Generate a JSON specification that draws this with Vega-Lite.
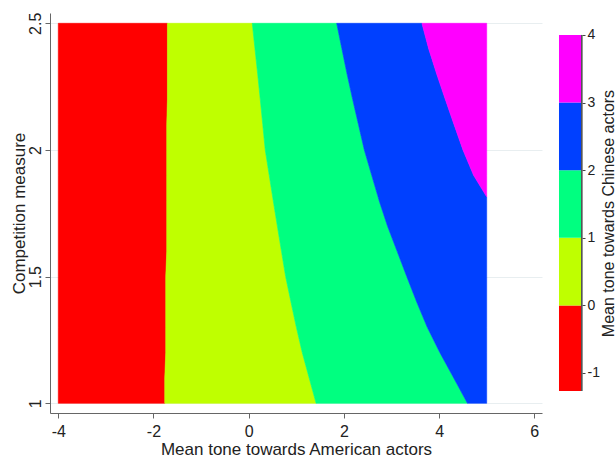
{
  "$schema": "https://vega.github.io/schema/vega-lite/v6.json",
  "width": 492,
  "height": 400,
  "autosize": {"type": "none"},
  "padding": {"left": 50, "top": 13, "right": 74, "bottom": 45},
  "background": "white",
  "config": {"view": {"stroke": null}, "font": "Liberation Sans"},
  "datasets": {
    "contour": [
      {"band": "lt0", "y": 1.0, "lo": -4, "hi": -1.763},
      {"band": "lt0", "y": 1.1, "lo": -4, "hi": -1.763},
      {"band": "lt0", "y": 1.2, "lo": -4, "hi": -1.742},
      {"band": "lt0", "y": 1.3, "lo": -4, "hi": -1.742},
      {"band": "lt0", "y": 1.4, "lo": -4, "hi": -1.742},
      {"band": "lt0", "y": 1.5, "lo": -4, "hi": -1.742},
      {"band": "lt0", "y": 1.6, "lo": -4, "hi": -1.721},
      {"band": "lt0", "y": 1.7, "lo": -4, "hi": -1.721},
      {"band": "lt0", "y": 1.8, "lo": -4, "hi": -1.721},
      {"band": "lt0", "y": 1.9, "lo": -4, "hi": -1.721},
      {"band": "lt0", "y": 2.0, "lo": -4, "hi": -1.721},
      {"band": "lt0", "y": 2.1, "lo": -4, "hi": -1.721},
      {"band": "lt0", "y": 2.2, "lo": -4, "hi": -1.707},
      {"band": "lt0", "y": 2.3, "lo": -4, "hi": -1.707},
      {"band": "lt0", "y": 2.4, "lo": -4, "hi": -1.707},
      {"band": "lt0", "y": 2.5, "lo": -4, "hi": -1.707},

      {"band": "0-1", "y": 1.0, "lo": -1.763, "hi": 1.417},
      {"band": "0-1", "y": 1.1, "lo": -1.763, "hi": 1.271},
      {"band": "0-1", "y": 1.2, "lo": -1.742, "hi": 1.126},
      {"band": "0-1", "y": 1.3, "lo": -1.742, "hi": 1.002},
      {"band": "0-1", "y": 1.4, "lo": -1.742, "hi": 0.888},
      {"band": "0-1", "y": 1.5, "lo": -1.742, "hi": 0.777},
      {"band": "0-1", "y": 1.6, "lo": -1.721, "hi": 0.689},
      {"band": "0-1", "y": 1.7, "lo": -1.721, "hi": 0.602},
      {"band": "0-1", "y": 1.8, "lo": -1.721, "hi": 0.516},
      {"band": "0-1", "y": 1.9, "lo": -1.721, "hi": 0.432},
      {"band": "0-1", "y": 2.0, "lo": -1.721, "hi": 0.348},
      {"band": "0-1", "y": 2.1, "lo": -1.721, "hi": 0.296},
      {"band": "0-1", "y": 2.2, "lo": -1.707, "hi": 0.243},
      {"band": "0-1", "y": 2.3, "lo": -1.707, "hi": 0.189},
      {"band": "0-1", "y": 2.4, "lo": -1.707, "hi": 0.132},
      {"band": "0-1", "y": 2.5, "lo": -1.707, "hi": 0.0755},

      {"band": "1-2", "y": 1.0, "lo": 1.417, "hi": 4.596},
      {"band": "1-2", "y": 1.1, "lo": 1.271, "hi": 4.308},
      {"band": "1-2", "y": 1.2, "lo": 1.126, "hi": 4.017},
      {"band": "1-2", "y": 1.3, "lo": 1.002, "hi": 3.752},
      {"band": "1-2", "y": 1.4, "lo": 0.888, "hi": 3.530},
      {"band": "1-2", "y": 1.5, "lo": 0.777, "hi": 3.322},
      {"band": "1-2", "y": 1.6, "lo": 0.689, "hi": 3.119},
      {"band": "1-2", "y": 1.7, "lo": 0.602, "hi": 2.916},
      {"band": "1-2", "y": 1.8, "lo": 0.516, "hi": 2.741},
      {"band": "1-2", "y": 1.9, "lo": 0.432, "hi": 2.585},
      {"band": "1-2", "y": 2.0, "lo": 0.348, "hi": 2.430},
      {"band": "1-2", "y": 2.1, "lo": 0.296, "hi": 2.307},
      {"band": "1-2", "y": 2.2, "lo": 0.243, "hi": 2.184},
      {"band": "1-2", "y": 2.3, "lo": 0.189, "hi": 2.067},
      {"band": "1-2", "y": 2.4, "lo": 0.132, "hi": 1.958},
      {"band": "1-2", "y": 2.5, "lo": 0.0755, "hi": 1.849},

      {"band": "2-3", "y": 1.0, "lo": 4.596, "hi": 5},
      {"band": "2-3", "y": 1.1, "lo": 4.308, "hi": 5},
      {"band": "2-3", "y": 1.2, "lo": 4.017, "hi": 5},
      {"band": "2-3", "y": 1.3, "lo": 3.752, "hi": 5},
      {"band": "2-3", "y": 1.4, "lo": 3.530, "hi": 5},
      {"band": "2-3", "y": 1.5, "lo": 3.322, "hi": 5},
      {"band": "2-3", "y": 1.6, "lo": 3.119, "hi": 5},
      {"band": "2-3", "y": 1.7, "lo": 2.916, "hi": 5},
      {"band": "2-3", "y": 1.8, "lo": 2.741, "hi": 5},
      {"band": "2-3", "y": 1.815, "lo": 2.718, "hi": 5},
      {"band": "2-3", "y": 1.9, "lo": 2.585, "hi": 4.725},
      {"band": "2-3", "y": 2.0, "lo": 2.430, "hi": 4.502},
      {"band": "2-3", "y": 2.1, "lo": 2.307, "hi": 4.315},
      {"band": "2-3", "y": 2.2, "lo": 2.184, "hi": 4.130},
      {"band": "2-3", "y": 2.3, "lo": 2.067, "hi": 3.950},
      {"band": "2-3", "y": 2.4, "lo": 1.958, "hi": 3.781},
      {"band": "2-3", "y": 2.5, "lo": 1.849, "hi": 3.639},

      {"band": "3-4", "y": 1.815, "lo": 5, "hi": 5},
      {"band": "3-4", "y": 1.9, "lo": 4.725, "hi": 5},
      {"band": "3-4", "y": 2.0, "lo": 4.502, "hi": 5},
      {"band": "3-4", "y": 2.1, "lo": 4.315, "hi": 5},
      {"band": "3-4", "y": 2.2, "lo": 4.130, "hi": 5},
      {"band": "3-4", "y": 2.3, "lo": 3.950, "hi": 5},
      {"band": "3-4", "y": 2.4, "lo": 3.781, "hi": 5},
      {"band": "3-4", "y": 2.5, "lo": 3.639, "hi": 5}
    ],
    "legend": [
      {"band": "lt0", "lo": -1.266, "hi": 0},
      {"band": "0-1", "lo": 0, "hi": 1},
      {"band": "1-2", "lo": 1, "hi": 2},
      {"band": "2-3", "lo": 2, "hi": 3},
      {"band": "3-4", "lo": 3, "hi": 4}
    ]
  },
  "layer": [
    {
      "data": {"name": "contour"},
      "mark": {"type": "area", "orient": "horizontal", "strokeWidth": 0.6},
      "encoding": {
        "y": {
          "field": "y", "type": "quantitative",
          "scale": {"domain": [0.9617, 2.5407], "nice": false, "zero": false},
          "axis": {
            "values": [1, 1.5, 2, 2.5], "format": "~g",
            "labelAngle": 270, "labelAlign": "center", "labelBaseline": "bottom",
            "labelFontSize": 16, "labelColor": "#222", "labelPadding": 2,
            "tickSize": 5, "tickColor": "#666", "domainColor": "#666",
            "grid": true, "gridColor": "#e8eef0",
            "title": "Competition measure", "titleFontSize": 17, "titleFontWeight": "normal",
            "titleColor": "#222", "titlePadding": -1
          }
        },
        "x": {
          "field": "lo", "type": "quantitative",
          "title": "Mean tone towards American actors",
          "scale": {"domain": [-4.174, 6.162], "nice": false, "zero": false},
          "axis": {
            "values": [-4, -2, 0, 2, 4, 6], "format": "d",
            "labelExpr": "replace(datum.label, '\u2212', '-')",
            "labelFontSize": 16, "labelColor": "#222", "labelPadding": 5,
            "tickSize": 5, "tickColor": "#666", "domainColor": "#666", "grid": false,
            "titleFontSize": 17,
            "titleFontWeight": "normal", "titleColor": "#222", "titlePadding": 2
          }
        },
        "x2": {"field": "hi"},
        "color": {
          "field": "band", "type": "nominal",
          "scale": {"domain": ["lt0", "0-1", "1-2", "2-3", "3-4"], "range": ["#ff0000", "#bfff00", "#00ff80", "#0040ff", "#ff00ff"]},
          "legend": null
        },
        "stroke": {
          "field": "band", "type": "nominal",
          "scale": {"domain": ["lt0", "0-1", "1-2", "2-3", "3-4"], "range": ["#ff0000", "#bfff00", "#00ff80", "#0040ff", "#ff00ff"]},
          "legend": null
        }
      }
    },
    {
      "data": {"name": "legend"},
      "layer": [
        {
          "mark": {"type": "rect"},
          "encoding": {
            "x": {"datum": 6.519, "type": "quantitative"},
            "x2": {"datum": 6.996},
            "y": {
              "field": "lo", "type": "quantitative",
              "scale": {"domain": [-1.592, 4.3254], "nice": false, "zero": false},
              "axis": {
                "orient": "right", "offset": 40, "values": [-1, 0, 1, 2, 3, 4], "format": "d",
                "labelExpr": "replace(datum.label, '\u2212', '-')",
                "domain": false, "grid": false, "tickSize": 3, "tickColor": "#444",
                "labelFontSize": 14, "labelColor": "#222", "labelPadding": 2,
                "title": "Mean tone towards Chinese actors", "titleFontSize": 16,
                "titleFontWeight": "normal", "titleColor": "#222",
                "titleAngle": 270, "titleBaseline": "top", "titlePadding": 1
              }
            },
            "y2": {"field": "hi"},
            "color": {"field": "band", "type": "nominal", "legend": null}
          }
        },
        {
          "mark": {"type": "rule", "color": "#555", "strokeWidth": 1},
          "encoding": {
            "x": {"datum": 6.996, "type": "quantitative"},
            "y": {"datum": -1.266, "type": "quantitative"},
            "y2": {"datum": 4}
          }
        }
      ]
    }
  ],
  "resolve": {"scale": {"y": "independent"}, "axis": {"y": "independent"}}
}
